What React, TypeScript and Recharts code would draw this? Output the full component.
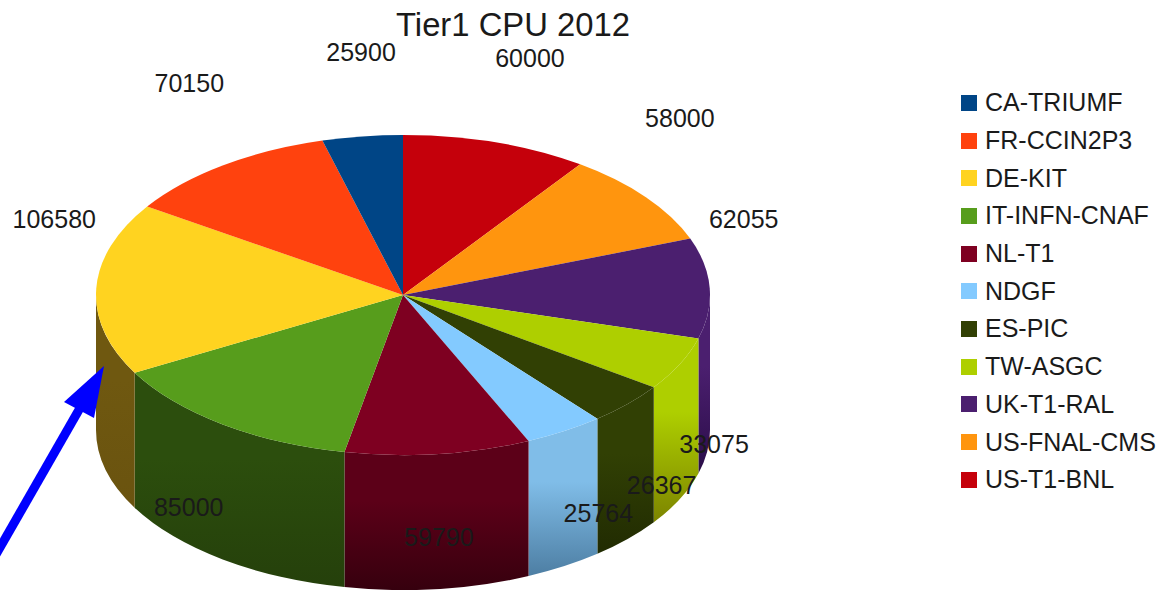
import React from "react";
import { PieChart, Pie, Legend } from "recharts";

const sites = ["US-T1-BNL", "US-FNAL-CMS", "UK-T1-RAL", "TW-ASGC", "ES-PIC", "NDGF", "NL-T1", "IT-INFN-CNAF", "DE-KIT", "FR-CCIN2P3", "CA-TRIUMF"];
const cpu = [60000, 58000, 62055, 33075, 26367, 25764, 59790, 85000, 106580, 70150, 25900];
const faceColors = ["#c5000b", "#ff950e", "#4b1f6f", "#aecf00", "#314004", "#83caff", "#7e0021", "#579d1c", "#ffd320", "#ff420e", "#004586"];
const wallTop = ["#7a0007", "#a0600a", "#4b1f6f", "#aecf00", "#314004", "#80bde8", "#5c0018", "#2c4e0d", "#6f5810", "#a02a08", "#002a55"];
const wallBottom = ["#4a0004", "#604005", "#2a0d48", "#7c8400", "#212b02", "#4d7ea3", "#36000e", "#25400b", "#6a530f", "#601a05", "#001a33"];

const data = sites.map((name, i) => ({ name, value: cpu[i], fill: faceColors[i], index: i }));

const RATIO = 160 / 307;
const DEPTH = 135;
const FONT = "'Liberation Sans', Arial, sans-serif";
const rad = (d: number) => (d * Math.PI) / 180;

function Face(p: any) {
  const { cx, cy, outerRadius: r, startAngle, endAngle, fill } = p;
  const ry = r * RATIO;
  const x1 = cx + r * Math.cos(rad(startAngle));
  const y1 = cy - ry * Math.sin(rad(startAngle));
  const x2 = cx + r * Math.cos(rad(endAngle));
  const y2 = cy - ry * Math.sin(rad(endAngle));
  const large = Math.abs(startAngle - endAngle) > 180 ? 1 : 0;
  return <path d={`M${cx},${cy}L${x1},${y1}A${r},${ry} 0 ${large} 1 ${x2},${y2}Z`} fill={fill} stroke="none" />;
}

function Wall(p: any) {
  const { cx, cy, outerRadius: r, startAngle, endAngle, payload } = p;
  const ry = r * RATIO;
  // only the part of the rim that faces the viewer: math angles 0 .. -180
  const a1 = Math.min(startAngle, 0);
  const a2 = Math.max(endAngle, -180);
  if (a1 <= a2) return <g />;
  const px = (a: number) => cx + r * Math.cos(rad(a));
  const py = (a: number) => cy - ry * Math.sin(rad(a));
  const idx = payload?.index ?? p.index;
  const id = `wall-${idx}`;
  const d = `M${px(a1)},${py(a1)}A${r},${ry} 0 0 1 ${px(a2)},${py(a2)}L${px(a2)},${py(a2) + DEPTH}A${r},${ry} 0 0 0 ${px(a1)},${py(a1) + DEPTH}Z`;
  return (
    <g>
      <defs>
        <linearGradient id={id} x1="0" y1="0" x2="0" y2="1">
          <stop offset="0" stopColor={wallTop[idx]} />
          <stop offset="0.4" stopColor={wallTop[idx]} />
          <stop offset="1" stopColor={wallBottom[idx]} />
        </linearGradient>
      </defs>
      <path d={d} fill={`url(#${id})`} stroke="none" />
    </g>
  );
}

function valueLabel(p: any) {
  const { cx, cy, outerRadius: r, midAngle, value } = p;
  const s = Math.cos(rad(midAngle));
  const c = Math.sin(rad(midAngle));
  const pad = 34 + (String(value).length - 5) * 8;
  const spread = pad * Math.min(1, Math.pow(s / 0.3, 4));
  const x = cx + r * s + Math.sign(s) * spread;
  const y = c >= 0 ? cy - 69 - 176 * c : cy + 78 - 165 * c;
  return (
    <text x={x} y={y} textAnchor="middle" dominantBaseline="central" fontSize={25} fill="#1a1a1a" fontFamily={FONT}>
      {value}
    </text>
  );
}

function LegendList({ payload }: any) {
  const seen = new Set<string>();
  const items = [...(payload || [])]
    .filter((it: any) => it.type !== "none" && !seen.has(it.value) && !!seen.add(it.value))
    .reverse();
  return (
    <div style={{ fontFamily: FONT, fontSize: 25, color: "#1a1a1a" }}>
      {items.map((it: any) => (
        <div key={it.value} style={{ display: "flex", alignItems: "center", height: 37.7 }}>
          <span style={{ width: 16, height: 16, background: it.color, marginRight: 8, display: "inline-block" }} />
          <span>{it.value}</span>
        </div>
      ))}
    </div>
  );
}

export default function App() {
  return (
    <div style={{ position: "absolute", left: 0, top: 0, width: 1164, height: 590, background: "#fff" }}>
      <PieChart width={1164} height={590} margin={{ top: 0, right: 0, bottom: 0, left: 0 }}>
        <text x={513} y={24} textAnchor="middle" dominantBaseline="central" fontSize={32.8} fill="#1a1a1a" fontFamily={FONT}>
          Tier1 CPU 2012
        </text>
        <Pie data={data} dataKey="value" nameKey="name" cx={403} cy={295} outerRadius={307} startAngle={90} endAngle={-270} isAnimationActive={false} legendType="none" shape={Wall} inactiveShape={Wall} stroke="none" label={false} />
        <Pie data={data} dataKey="value" nameKey="name" cx={403} cy={295} outerRadius={307} startAngle={90} endAngle={-270} isAnimationActive={false} legendType="square" shape={Face} inactiveShape={Face} stroke="none" label={valueLabel} labelLine={false} />
        <Legend layout="vertical" align="right" verticalAlign="top" itemSorter={null} content={LegendList as any} wrapperStyle={{ left: 961, top: 84, width: 200, right: "auto" }} />
      </PieChart>
      <svg width={1164} height={590} style={{ position: "absolute", left: 0, top: 0, pointerEvents: "none" }}>
        <line x1={-6} y1={558} x2={80} y2={408} stroke="#0000ff" strokeWidth={9} />
        <polygon points="104,366 64,402 94,418" fill="#0000ff" />
      </svg>
    </div>
  );
}
